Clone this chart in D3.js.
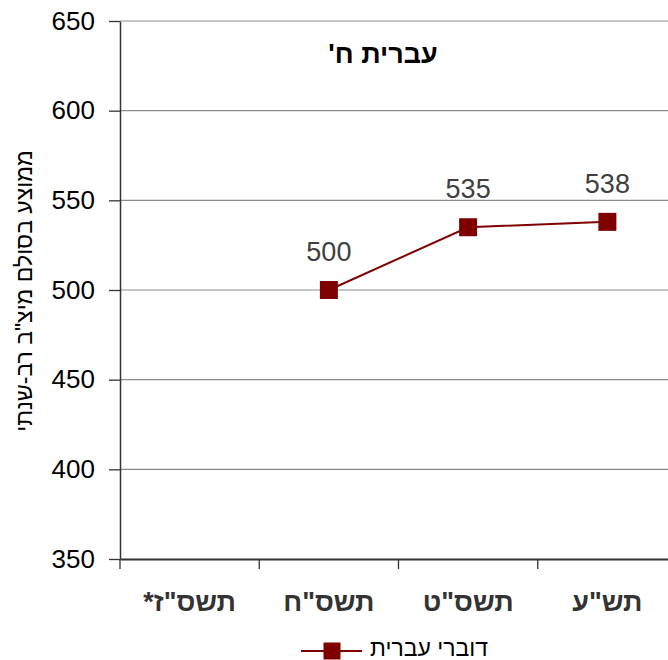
<!DOCTYPE html>
<html><head><meta charset="utf-8">
<script src="https://cdn.jsdelivr.net/npm/d3@7"></script>
<style>body{margin:0;background:#fff}svg{display:block}</style>
</head><body>
<svg id="c" width="668" height="660"></svg>
<script>
const categories = ['תשס"ז*', 'תשס"ח', 'תשס"ט', 'תש"ע'];
const values = [null, 500, 535, 538];
const yTicks = [350, 400, 450, 500, 550, 600, 650];
const titleText = "עברית ח'";
const yLabel = 'ממוצע בסולם מיצ"ב רב-שנתי';
const seriesName = "דוברי עברית";

const svg = d3.select("#c");
const font = "Arial, 'Liberation Sans', sans-serif";
const x = d3.scaleBand().domain(categories).range([120, 677]);
const y = d3.scaleLinear().domain([350, 650]).range([559, 21]);
const color = "#7f0000";

// gridlines
svg.append("g").selectAll("line").data(yTicks.filter(d => d > 350)).join("line")
  .attr("x1", 120).attr("x2", 668).attr("y1", d => y(d)).attr("y2", d => y(d))
  .attr("stroke", "#8c8c8c").attr("stroke-width", 1.2);

// y axis
const ya = svg.append("g").attr("transform", "translate(120,0)")
  .call(d3.axisLeft(y).tickValues(yTicks).tickSize(11).tickSizeOuter(0).tickPadding(14));
ya.select(".domain").attr("stroke", "#333").attr("stroke-width", 1.5);
ya.selectAll(".tick line").attr("stroke", "#333").attr("stroke-width", 1.3);
ya.selectAll(".tick text").attr("font-family", font).attr("font-size", 26).attr("fill", "#000");

// x axis
const xa = svg.append("g").attr("transform", "translate(0,559)")
  .call(d3.axisBottom(x).tickSize(0).tickPadding(33));
xa.select(".domain").attr("stroke", "#333").attr("stroke-width", 1.8);
xa.selectAll(".tick text").attr("font-family", font).attr("font-size", 27)
  .attr("font-weight", "bold").attr("fill", "#333").attr("direction", "rtl");
// boundary ticks between categories
svg.append("g").selectAll("line").data(categories).join("line")
  .attr("x1", d => x(d)).attr("x2", d => x(d)).attr("y1", 559).attr("y2", 569)
  .attr("stroke", "#333").attr("stroke-width", 1.3);

// line
const pts = categories.map((c, i) => ({c, v: values[i]})).filter(d => d.v != null);
const line = d3.line().x(d => x(d.c) + x.bandwidth() / 2).y(d => y(d.v));
svg.append("path").datum(pts).attr("d", line).attr("fill", "none")
  .attr("stroke", color).attr("stroke-width", 2);
svg.append("g").selectAll("rect").data(pts).join("rect")
  .attr("x", d => x(d.c) + x.bandwidth() / 2 - 9).attr("y", d => y(d.v) - 9)
  .attr("width", 18).attr("height", 18).attr("fill", color);
svg.append("g").selectAll("text").data(pts).join("text")
  .attr("x", d => x(d.c) + x.bandwidth() / 2).attr("y", d => y(d.v) - 29)
  .attr("text-anchor", "middle").attr("font-family", font).attr("font-size", 27)
  .attr("fill", "#404040").text(d => d.v);

// title
svg.append("text").attr("x", 383).attr("y", 63).attr("text-anchor", "middle")
  .attr("direction", "rtl").attr("font-family", font).attr("font-size", 27)
  .attr("font-weight", "bold").attr("fill", "#000").text(titleText);

// y label
svg.append("text").attr("transform", "translate(32,291) rotate(-90)")
  .attr("text-anchor", "middle").attr("direction", "rtl").attr("font-family", font)
  .attr("font-size", 23).attr("fill", "#000").text(yLabel);

// legend
const lg = svg.append("g");
lg.append("line").attr("x1", 301).attr("x2", 362).attr("y1", 651).attr("y2", 651)
  .attr("stroke", color).attr("stroke-width", 2);
lg.append("rect").attr("x", 323.5).attr("y", 642.5).attr("width", 17).attr("height", 17).attr("fill", color);
lg.append("text").attr("x", 488).attr("y", 655.5).attr("direction", "rtl")
  .attr("text-anchor", "start").attr("font-family", font).attr("font-size", 23)
  .attr("fill", "#000").text(seriesName);
</script>
</body></html>
